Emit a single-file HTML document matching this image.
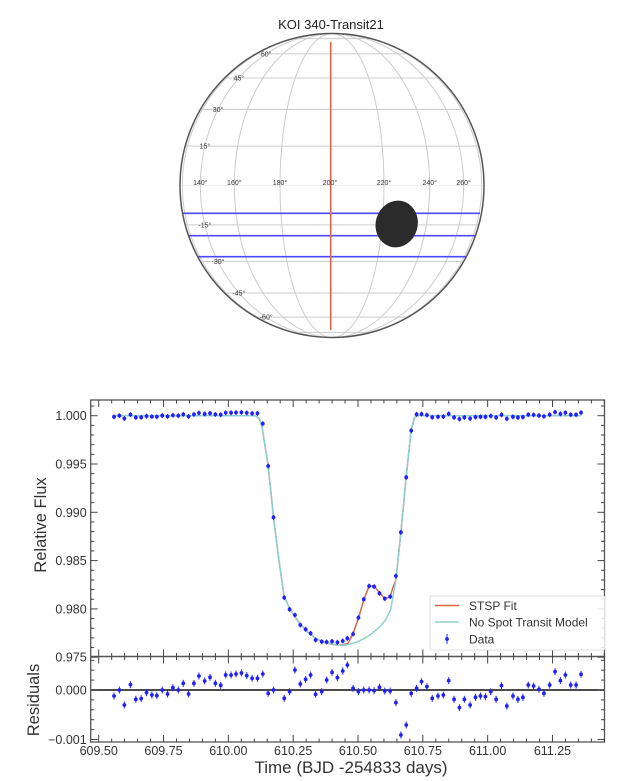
<!DOCTYPE html>
<html><head><meta charset="utf-8">
<style>
html,body{margin:0;padding:0;background:#fff;}
svg{display:block;font-family:"Liberation Sans","DejaVu Sans",sans-serif;}
</style></head>
<body>
<svg id="s" width="634" height="781" viewBox="0 0 634 781" xmlns="http://www.w3.org/2000/svg">
<text x="331" y="29" font-size="13" text-anchor="middle" fill="#222">KOI 340-Transit21</text>
<g id="globe"></g>
<g id="plot"></g>
</svg>
<script>
const NS="http://www.w3.org/2000/svg";
function el(p,t,a,txt){const e=document.createElementNS(NS,t);for(const k in a)e.setAttribute(k,a[k]);if(txt!==undefined)e.textContent=txt;p.appendChild(e);return e;}
// ---- globe
const G=document.getElementById('globe');
const cx=332,cy=185.5,R=152;
el(G,'circle',{cx:cx,cy:cy,r:R,fill:'#fff',stroke:'none'});
for(let lat=-75;lat<=75;lat+=15){if(lat===0)continue;const y=cy-R*Math.sin(lat*Math.PI/180),w=R*Math.cos(lat*Math.PI/180);
el(G,'line',{x1:cx-w,x2:cx+w,y1:y,y2:y,stroke:'#ccc','stroke-width':1});}
el(G,'line',{x1:cx-R,x2:cx+R,y1:cy,y2:cy,stroke:'#ddd','stroke-width':0.6});
for(let d=-80;d<=80;d+=20){if(d===0)continue;const a=R*Math.sin(d*Math.PI/180);
el(G,'path',{d:`M${cx},${cy-R} A${Math.abs(a)},${R} 0 0 ${d>0?1:0} ${cx},${cy+R}`,fill:'none',stroke:'#ccc','stroke-width':1});}
[[213.3,183,480],[235.7,188,475],[256.7,198,466]].forEach(b=>el(G,'line',{x1:b[1],x2:b[2],y1:b[0],y2:b[0],stroke:'#4a4aff','stroke-width':1.6}));
el(G,'ellipse',{cx:396.7,cy:224,rx:21,ry:23.5,fill:'#2b2b2b',transform:'rotate(15 396.7 224)'});
el(G,'line',{x1:330.7,x2:330.7,y1:41.7,y2:330,stroke:'#d9644a','stroke-width':1.6});
el(G,'circle',{cx:cx,cy:cy,r:R,fill:'none',stroke:'#555','stroke-width':1.5});
[[140,-60],[160,-40],[180,-20],[200,0],[220,20],[240,40],[260,60]].forEach(l=>{const x=cx+R*Math.sin(l[1]*Math.PI/180);el(G,'text',{x:x-(l[1]===0?2:0),y:185,'font-size':7,'text-anchor':'middle',fill:'#333'},l[0]+'°');});
[60,45,30,15,-15,-30,-45,-60].forEach(lat=>{const r=lat*Math.PI/180;const x=cx-R*Math.cos(r)*Math.sin(Math.PI/3),y=cy-R*Math.sin(r);el(G,'text',{x:x,y:y+2.5,'font-size':7,'text-anchor':'middle',fill:'#333'},lat+'°');});
// ---- plot
const P=document.getElementById('plot');
const L=90.7,Rt=604.5,T=400,M=656.5,B=742;
const X=t=>98.7+(t-609.5)*259.3;
const Yf=v=>415.7+(1-v)*9660;
const Yr=v=>690-v*49500;
const zx=xz=>20.3+xz*0.3825, zy=yz=>380+yz/3;
const cyan=[[245,107],[615,107],[624,115],[632,140],[648,258],[662,412],[676,540],[690,650],[704,685],[718,710],[732,733],[752,757],[772,775],[793,786],[815,793],[830,796],[845,796],[860,793],[880,786],[900,775],[920,760],[940,740],[955,720],[968,690],[982,600],[995,457],[1009,290],[1022,150],[1030,115],[1036,107],[1466,107]];
const red=[[245,107],[615,107],[624,115],[632,140],[648,258],[662,412],[676,540],[690,650],[704,685],[718,710],[732,733],[752,757],[772,775],[793,786],[815,793],[830,796],[845,794],[857,790],[870,760],[884,715],[898,660],[912,618],[925,618],[939,638],[953,656],[967,650],[975,620],[982,600],[995,457],[1009,290],[1022,150],[1030,115],[1036,107],[1466,107]];
function path(pts){return 'M'+pts.map(p=>zx(p[0]).toFixed(1)+','+zy(p[1]).toFixed(1)).join('L');}
el(P,'path',{d:path(red),fill:'none',stroke:'#d9644a','stroke-width':1.5});
el(P,'path',{d:path(cyan),fill:'none',stroke:'#8fd0d0','stroke-width':1.5});
const res=[[245,948],[259,930],[272,975],[288,914],[302,958],[316,956],[330,938],[344,945],[357,947],[371,930],[385,942],[399,923],[413,930],[426,910],[440,942],[454,910],[467,888],[482,903],[496,892],[510,910],[524,916],[537,885],[551,885],[564,882],[578,879],[592,887],[606,895],[620,895],[634,882],[648,940],[662,930],[690,955],[704,935],[718,870],[732,912],[746,898],[759,885],[772,943],[788,935],[801,900],[815,877],[829,893],[843,873],[855,855],[870,925],[884,935],[898,930],[912,930],[925,932],[939,922],[953,933],[967,933],[982,968],[995,1065],[1009,1035],[1022,940],[1036,925],[1049,905],[1063,920],[1077,955],[1092,948],[1106,945],[1120,902],[1134,958],[1148,983],[1161,958],[1176,975],[1190,952],[1203,948],[1216,950],[1230,935],[1244,958],[1258,917],[1272,978],[1288,948],[1301,958],[1314,952],[1328,915],[1342,918],[1356,928],[1369,940],[1384,915],[1398,875],[1412,902],[1425,885],[1439,915],[1453,915],[1466,883]];
const topIn={620:100,634:131,648:258,662:412,690:653,704:688,718:705,732:735,746:748,759:760,772:780,788:785,801:786,815:784,829:787,843:783,855:775,870:762,884:713,898:658,912:618,925:620,939:640,953:656,967:650,982:588,995:457,1009:292,1022:152,1036:103};
el(P,'line',{x1:L,x2:Rt,y1:690,y2:690,stroke:'#333','stroke-width':1.8});
res.forEach(p=>{const x=zx(p[0]);
 const yr=690+(p[1]-930)/3;
 el(P,'line',{x1:x,x2:x,y1:yr-3.5,y2:yr+3.5,stroke:'#2020ff','stroke-width':1});
 el(P,'circle',{cx:x,cy:yr,r:1.9,fill:'#2020ff'});
 let ty;
 if(topIn[p[0]]!==undefined) ty=zy(topIn[p[0]]); else ty=zy(107)+(p[1]-930)/150*28.8/3;
 el(P,'line',{x1:x,x2:x,y1:ty-2.5,y2:ty+2.5,stroke:'#2020ff','stroke-width':1});
 el(P,'circle',{cx:x,cy:ty,r:1.9,fill:'#2020ff'});
});
el(P,'rect',{x:L,y:T,width:Rt-L,height:M-T,fill:'none',stroke:'#555','stroke-width':1.3});
el(P,'rect',{x:L,y:M,width:Rt-L,height:B-M,fill:'none',stroke:'#555','stroke-width':1.3});
for(let i=0;i<=40;i++){const t=609.5+i*0.05;const x=X(t);if(x>Rt)break;const maj=(i%5===0);const len=maj?7:3.5;
 [[T,1],[M,-1],[M,1],[B,-1]].forEach(s=>el(P,'line',{x1:x,x2:x,y1:s[0],y2:s[0]+s[1]*len,stroke:'#444','stroke-width':1}));
 if(maj&&t<611.3)el(P,'text',{x:x,y:755,'font-size':12.5,'text-anchor':'middle',fill:'#333'},t.toFixed(2));}
for(let i=0;i<=26;i++){const v=0.975+i*0.001;const y=Yf(v);if(y<T)break;const maj=(i%5===0);const len=maj?7:3.5;
 el(P,'line',{x1:L,x2:L+len,y1:y,y2:y,stroke:'#444','stroke-width':1});
 el(P,'line',{x1:Rt,x2:Rt-len,y1:y,y2:y,stroke:'#444','stroke-width':1});
 if(maj)el(P,'text',{x:L-4,y:y+4.5,'font-size':12.5,'text-anchor':'end',fill:'#333'},v.toFixed(3));}
for(let i=-5;i<=3;i++){const v=i*0.0002;const y=Yr(v);const maj=(i%5===0);const len=maj?7:3.5;
 el(P,'line',{x1:L,x2:L+len,y1:y,y2:y,stroke:'#444','stroke-width':1});
 el(P,'line',{x1:Rt,x2:Rt-len,y1:y,y2:y,stroke:'#444','stroke-width':1});}
el(P,'text',{x:L-4,y:694.5,'font-size':12.5,'text-anchor':'end',fill:'#333'},'0.000');
el(P,'text',{x:L-4,y:744,'font-size':12.5,'text-anchor':'end',fill:'#333'},'\u22120.001');
el(P,'text',{x:0,y:0,'font-size':16.5,'text-anchor':'middle',fill:'#333',transform:'translate(46,525) rotate(-90)'},'Relative Flux');
el(P,'text',{x:0,y:0,'font-size':16.5,'text-anchor':'middle',fill:'#333',transform:'translate(39,700) rotate(-90)'},'Residuals');
el(P,'text',{x:351,y:773,'font-size':17,'text-anchor':'middle',fill:'#333'},'Time (BJD -254833 days)');
el(P,'rect',{x:430,y:596,width:175,height:54,rx:2,fill:'#fff','fill-opacity':0.85,stroke:'#ddd','stroke-width':1});
el(P,'line',{x1:435,x2:459,y1:605.5,y2:605.5,stroke:'#d9644a','stroke-width':1.5});
el(P,'line',{x1:435,x2:459,y1:622,y2:622,stroke:'#8fd0d0','stroke-width':1.5});
el(P,'line',{x1:447,x2:447,y1:634,y2:644,stroke:'#2020ff','stroke-width':1});
el(P,'circle',{cx:447,cy:639,r:1.9,fill:'#2020ff'});
el(P,'text',{x:469,y:610,'font-size':12,fill:'#333'},'STSP Fit');
el(P,'text',{x:469,y:626.5,'font-size':12,fill:'#333'},'No Spot Transit Model');
el(P,'text',{x:469,y:643.5,'font-size':12,fill:'#333'},'Data');
</script>
</body></html>
